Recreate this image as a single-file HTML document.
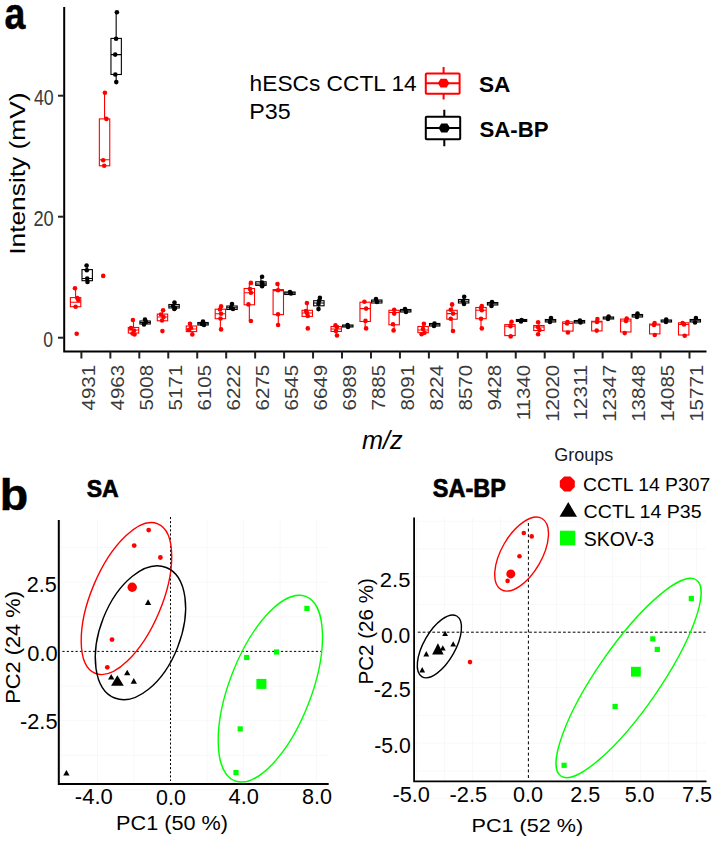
<!DOCTYPE html><html><head><meta charset="utf-8"><style>html,body{margin:0;padding:0;background:#fff;}svg{display:block;}text{font-family:"Liberation Sans",sans-serif;}</style></head><body>
<svg width="714" height="841" viewBox="0 0 714 841">
<rect width="714" height="841" fill="#fff"/>
<text transform="translate(4.42 29.45) scale(0.8447 1)" font-size="44.47" font-weight="bold" font-style="normal" fill="#000" stroke="#000" stroke-width="0.5">a</text>
<path d="M64.2 7 V351.5 H706.5" fill="none" stroke="#000" stroke-width="2"/>
<path d="M58 337.7 H64" stroke="#222" stroke-width="2"/>
<path d="M58 216.7 H64" stroke="#222" stroke-width="2"/>
<path d="M58 95.7 H64" stroke="#222" stroke-width="2"/>
<text transform="translate(33.90 104.70) scale(0.8337 1)" font-size="21.36" font-weight="normal" font-style="normal" fill="#3A3A3A" >40</text>
<text transform="translate(33.39 225.70) scale(0.8561 1)" font-size="21.36" font-weight="normal" font-style="normal" fill="#3A3A3A" >20</text>
<text transform="translate(43.30 346.70) scale(0.8235 1)" font-size="21.36" font-weight="normal" font-style="normal" fill="#3A3A3A" >0</text>
<path d="M81.40 351.5 V358.5" stroke="#222" stroke-width="2"/>
<text transform="translate(95.20 364.8) rotate(-90) scale(1.08 1)" font-size="19" fill="#3A3A3A" text-anchor="end">4931</text>
<path d="M110.36 351.5 V358.5" stroke="#222" stroke-width="2"/>
<text transform="translate(124.16 364.8) rotate(-90) scale(1.08 1)" font-size="19" fill="#3A3A3A" text-anchor="end">4963</text>
<path d="M139.31 351.5 V358.5" stroke="#222" stroke-width="2"/>
<text transform="translate(153.11 364.8) rotate(-90) scale(1.08 1)" font-size="19" fill="#3A3A3A" text-anchor="end">5008</text>
<path d="M168.27 351.5 V358.5" stroke="#222" stroke-width="2"/>
<text transform="translate(182.07 364.8) rotate(-90) scale(1.08 1)" font-size="19" fill="#3A3A3A" text-anchor="end">5171</text>
<path d="M197.23 351.5 V358.5" stroke="#222" stroke-width="2"/>
<text transform="translate(211.03 364.8) rotate(-90) scale(1.08 1)" font-size="19" fill="#3A3A3A" text-anchor="end">6105</text>
<path d="M226.19 351.5 V358.5" stroke="#222" stroke-width="2"/>
<text transform="translate(239.99 364.8) rotate(-90) scale(1.08 1)" font-size="19" fill="#3A3A3A" text-anchor="end">6222</text>
<path d="M255.14 351.5 V358.5" stroke="#222" stroke-width="2"/>
<text transform="translate(268.94 364.8) rotate(-90) scale(1.08 1)" font-size="19" fill="#3A3A3A" text-anchor="end">6275</text>
<path d="M284.10 351.5 V358.5" stroke="#222" stroke-width="2"/>
<text transform="translate(297.90 364.8) rotate(-90) scale(1.08 1)" font-size="19" fill="#3A3A3A" text-anchor="end">6545</text>
<path d="M313.06 351.5 V358.5" stroke="#222" stroke-width="2"/>
<text transform="translate(326.86 364.8) rotate(-90) scale(1.08 1)" font-size="19" fill="#3A3A3A" text-anchor="end">6649</text>
<path d="M342.01 351.5 V358.5" stroke="#222" stroke-width="2"/>
<text transform="translate(355.81 364.8) rotate(-90) scale(1.08 1)" font-size="19" fill="#3A3A3A" text-anchor="end">6989</text>
<path d="M370.97 351.5 V358.5" stroke="#222" stroke-width="2"/>
<text transform="translate(384.77 364.8) rotate(-90) scale(1.08 1)" font-size="19" fill="#3A3A3A" text-anchor="end">7885</text>
<path d="M399.93 351.5 V358.5" stroke="#222" stroke-width="2"/>
<text transform="translate(413.73 364.8) rotate(-90) scale(1.08 1)" font-size="19" fill="#3A3A3A" text-anchor="end">8091</text>
<path d="M428.88 351.5 V358.5" stroke="#222" stroke-width="2"/>
<text transform="translate(442.68 364.8) rotate(-90) scale(1.08 1)" font-size="19" fill="#3A3A3A" text-anchor="end">8224</text>
<path d="M457.84 351.5 V358.5" stroke="#222" stroke-width="2"/>
<text transform="translate(471.64 364.8) rotate(-90) scale(1.08 1)" font-size="19" fill="#3A3A3A" text-anchor="end">8570</text>
<path d="M486.80 351.5 V358.5" stroke="#222" stroke-width="2"/>
<text transform="translate(500.60 364.8) rotate(-90) scale(1.08 1)" font-size="19" fill="#3A3A3A" text-anchor="end">9428</text>
<path d="M515.75 351.5 V358.5" stroke="#222" stroke-width="2"/>
<text transform="translate(529.55 364.8) rotate(-90) scale(1.08 1)" font-size="19" fill="#3A3A3A" text-anchor="end">11340</text>
<path d="M544.71 351.5 V358.5" stroke="#222" stroke-width="2"/>
<text transform="translate(558.51 364.8) rotate(-90) scale(1.08 1)" font-size="19" fill="#3A3A3A" text-anchor="end">12020</text>
<path d="M573.67 351.5 V358.5" stroke="#222" stroke-width="2"/>
<text transform="translate(587.47 364.8) rotate(-90) scale(1.08 1)" font-size="19" fill="#3A3A3A" text-anchor="end">12311</text>
<path d="M602.63 351.5 V358.5" stroke="#222" stroke-width="2"/>
<text transform="translate(616.43 364.8) rotate(-90) scale(1.08 1)" font-size="19" fill="#3A3A3A" text-anchor="end">12347</text>
<path d="M631.58 351.5 V358.5" stroke="#222" stroke-width="2"/>
<text transform="translate(645.38 364.8) rotate(-90) scale(1.08 1)" font-size="19" fill="#3A3A3A" text-anchor="end">13848</text>
<path d="M660.54 351.5 V358.5" stroke="#222" stroke-width="2"/>
<text transform="translate(674.34 364.8) rotate(-90) scale(1.08 1)" font-size="19" fill="#3A3A3A" text-anchor="end">14085</text>
<path d="M689.50 351.5 V358.5" stroke="#222" stroke-width="2"/>
<text transform="translate(703.30 364.8) rotate(-90) scale(1.08 1)" font-size="19" fill="#3A3A3A" text-anchor="end">15771</text>
<text transform="translate(25.10 254.84) rotate(-90) scale(1.1940 1)" font-size="22.07" font-weight="normal" fill="#000">Intensity (mV)</text>
<text transform="translate(361.96 448.50) scale(1.0060 1)" font-size="25.10" font-weight="normal" font-style="italic" fill="#000" >m/z</text>
<text transform="translate(249.61 91.40) scale(1.0490 1)" font-size="21.66" font-weight="normal" font-style="normal" fill="#000" >hESCs CCTL 14</text>
<text transform="translate(249.28 118.70) scale(1.0335 1)" font-size="22.51" font-weight="normal" font-style="normal" fill="#000" >P35</text>
<g stroke="#FF0000" stroke-width="2" fill="none" stroke-linejoin="round"><path d="M443.6 67 V73.6 M443.6 93.8 V99.6"/><rect x="425.8" y="73.6" width="33.80000000000001" height="20.200000000000003" rx="0.8"/><path d="M425.8 83.2 H459.6"/></g>
<path d="M437.80 83.2 L440.60 78.80 L446.60 78.80 L449.40 83.2 L446.60 87.60 L440.60 87.60Z" fill="#FF0000"/>
<g stroke="#000" stroke-width="2" fill="none" stroke-linejoin="round"><path d="M444.3 109.8 V116.7 M444.3 139.3 V146.2"/><rect x="425.8" y="116.7" width="34.39999999999998" height="22.60000000000001" rx="0.8"/><path d="M425.8 128.0 H460.2"/></g>
<path d="M438.50 128.0 L441.30 123.60 L447.30 123.60 L450.10 128.0 L447.30 132.40 L441.30 132.40Z" fill="#000"/>
<text transform="translate(478.92 91.90) scale(1.0539 1)" font-size="21.51" font-weight="bold" font-style="normal" fill="#000" >SA</text>
<text transform="translate(479.53 136.70) scale(1.0062 1)" font-size="22.08" font-weight="bold" font-style="normal" fill="#000" >SA-BP</text>
<g stroke="#FF0000" stroke-width="1.1" fill="none"><rect x="70.40" y="297.60" width="10.40" height="9.10"/><path d="M70.40 302.30 H80.80 M75.60 297.60 V288.30"/></g>
<circle cx="75.00" cy="288.30" r="2.3" fill="#FF0000"/>
<circle cx="77.30" cy="298.10" r="2.3" fill="#FF0000"/>
<circle cx="78.30" cy="300.00" r="2.3" fill="#FF0000"/>
<circle cx="75.60" cy="306.70" r="2.3" fill="#FF0000"/>
<circle cx="76.70" cy="333.80" r="2.3" fill="#FF0000"/>
<g stroke="#FF0000" stroke-width="1.1" fill="none"><rect x="99.36" y="118.90" width="10.40" height="46.90"/><path d="M99.36 159.80 H109.76 M104.56 118.90 V92.80"/></g>
<circle cx="104.90" cy="92.80" r="2.3" fill="#FF0000"/>
<circle cx="106.40" cy="118.90" r="2.3" fill="#FF0000"/>
<circle cx="103.20" cy="160.30" r="2.3" fill="#FF0000"/>
<circle cx="104.20" cy="165.80" r="2.3" fill="#FF0000"/>
<circle cx="103.20" cy="275.90" r="2.3" fill="#FF0000"/>
<g stroke="#FF0000" stroke-width="1.1" fill="none"><rect x="128.31" y="327.50" width="10.40" height="5.60"/><path d="M128.31 330.00 H138.71 M133.51 327.50 V320.00"/></g>
<circle cx="132.90" cy="320.00" r="2.3" fill="#FF0000"/>
<circle cx="131.00" cy="328.00" r="2.3" fill="#FF0000"/>
<circle cx="134.00" cy="330.50" r="2.3" fill="#FF0000"/>
<circle cx="132.50" cy="333.50" r="2.3" fill="#FF0000"/>
<circle cx="134.50" cy="334.50" r="2.3" fill="#FF0000"/>
<g stroke="#FF0000" stroke-width="1.1" fill="none"><rect x="157.27" y="314.10" width="10.40" height="6.70"/><path d="M157.27 317.00 H167.67 M162.47 314.10 V310.20"/></g>
<circle cx="163.10" cy="310.20" r="2.3" fill="#FF0000"/>
<circle cx="161.00" cy="314.50" r="2.3" fill="#FF0000"/>
<circle cx="163.50" cy="317.00" r="2.3" fill="#FF0000"/>
<circle cx="162.00" cy="320.50" r="2.3" fill="#FF0000"/>
<circle cx="162.40" cy="331.10" r="2.3" fill="#FF0000"/>
<g stroke="#FF0000" stroke-width="1.1" fill="none"><rect x="186.23" y="326.00" width="10.40" height="5.60"/><path d="M186.23 329.00 H196.63 M191.43 326.00 V323.80"/></g>
<circle cx="190.00" cy="323.80" r="2.3" fill="#FF0000"/>
<circle cx="191.00" cy="328.00" r="2.3" fill="#FF0000"/>
<circle cx="192.30" cy="334.40" r="2.3" fill="#FF0000"/>
<circle cx="189.00" cy="330.00" r="2.3" fill="#FF0000"/>
<g stroke="#FF0000" stroke-width="1.1" fill="none"><rect x="215.19" y="309.20" width="10.40" height="9.50"/><path d="M215.19 313.70 H225.58 M220.38 309.20 V306.40 M220.38 318.70 V329.40"/></g>
<circle cx="221.10" cy="306.40" r="2.3" fill="#FF0000"/>
<circle cx="220.00" cy="309.50" r="2.3" fill="#FF0000"/>
<circle cx="221.00" cy="313.70" r="2.3" fill="#FF0000"/>
<circle cx="220.50" cy="318.50" r="2.3" fill="#FF0000"/>
<circle cx="221.10" cy="329.40" r="2.3" fill="#FF0000"/>
<g stroke="#FF0000" stroke-width="1.1" fill="none"><rect x="244.14" y="288.50" width="10.40" height="16.30"/><path d="M244.14 292.80 H254.54 M249.34 288.50 V282.90 M249.34 304.80 V321.00"/></g>
<circle cx="250.90" cy="282.90" r="2.3" fill="#FF0000"/>
<circle cx="250.00" cy="289.00" r="2.3" fill="#FF0000"/>
<circle cx="250.90" cy="292.80" r="2.3" fill="#FF0000"/>
<circle cx="248.40" cy="304.40" r="2.3" fill="#FF0000"/>
<circle cx="250.90" cy="321.00" r="2.3" fill="#FF0000"/>
<g stroke="#FF0000" stroke-width="1.1" fill="none"><rect x="273.10" y="289.60" width="10.40" height="25.00"/><path d="M273.10 290.60 H283.50 M278.30 289.60 V284.00 M278.30 314.60 V325.00"/></g>
<circle cx="277.50" cy="284.00" r="2.3" fill="#FF0000"/>
<circle cx="278.00" cy="290.20" r="2.3" fill="#FF0000"/>
<circle cx="278.00" cy="314.30" r="2.3" fill="#FF0000"/>
<circle cx="278.10" cy="325.00" r="2.3" fill="#FF0000"/>
<g stroke="#FF0000" stroke-width="1.1" fill="none"><rect x="302.06" y="310.30" width="10.40" height="6.10"/><path d="M302.06 313.00 H312.46 M307.26 310.30 V303.00"/></g>
<circle cx="306.90" cy="303.00" r="2.3" fill="#FF0000"/>
<circle cx="306.00" cy="311.00" r="2.3" fill="#FF0000"/>
<circle cx="307.00" cy="313.00" r="2.3" fill="#FF0000"/>
<circle cx="307.80" cy="316.00" r="2.3" fill="#FF0000"/>
<circle cx="307.80" cy="328.40" r="2.3" fill="#FF0000"/>
<g stroke="#FF0000" stroke-width="1.1" fill="none"><rect x="331.01" y="326.50" width="10.40" height="5.00"/><path d="M331.01 329.00 H341.41 M336.21 326.50 V325.40 M336.21 331.50 V335.50"/></g>
<circle cx="335.50" cy="325.40" r="2.3" fill="#FF0000"/>
<circle cx="337.00" cy="327.00" r="2.3" fill="#FF0000"/>
<circle cx="336.00" cy="331.00" r="2.3" fill="#FF0000"/>
<circle cx="337.00" cy="335.50" r="2.3" fill="#FF0000"/>
<g stroke="#FF0000" stroke-width="1.1" fill="none"><rect x="359.97" y="302.20" width="10.40" height="19.30"/><path d="M359.97 308.60 H370.37 M365.17 302.20 V301.80 M365.17 321.50 V328.40"/></g>
<circle cx="364.40" cy="301.80" r="2.3" fill="#FF0000"/>
<circle cx="366.10" cy="308.60" r="2.3" fill="#FF0000"/>
<circle cx="365.50" cy="320.90" r="2.3" fill="#FF0000"/>
<circle cx="366.10" cy="328.40" r="2.3" fill="#FF0000"/>
<g stroke="#FF0000" stroke-width="1.1" fill="none"><rect x="388.93" y="310.30" width="10.40" height="14.50"/><path d="M388.93 312.50 H399.33 M394.13 310.30 V309.70 M394.13 324.80 V330.40"/></g>
<circle cx="394.20" cy="309.70" r="2.3" fill="#FF0000"/>
<circle cx="394.20" cy="313.60" r="2.3" fill="#FF0000"/>
<circle cx="393.00" cy="324.30" r="2.3" fill="#FF0000"/>
<circle cx="393.60" cy="330.40" r="2.3" fill="#FF0000"/>
<g stroke="#FF0000" stroke-width="1.1" fill="none"><rect x="417.88" y="326.50" width="10.40" height="6.20"/><path d="M417.88 330.00 H428.28 M423.08 326.50 V323.70 M423.08 332.70 V334.30"/></g>
<circle cx="423.90" cy="323.70" r="2.3" fill="#FF0000"/>
<circle cx="421.60" cy="334.30" r="2.3" fill="#FF0000"/>
<circle cx="424.50" cy="332.70" r="2.3" fill="#FF0000"/>
<circle cx="423.00" cy="329.00" r="2.3" fill="#FF0000"/>
<g stroke="#FF0000" stroke-width="1.1" fill="none"><rect x="446.84" y="310.30" width="10.40" height="8.90"/><path d="M446.84 313.60 H457.24 M452.04 310.30 V304.40 M452.04 319.20 V331.00"/></g>
<circle cx="452.10" cy="304.40" r="2.3" fill="#FF0000"/>
<circle cx="450.70" cy="309.70" r="2.3" fill="#FF0000"/>
<circle cx="453.00" cy="313.60" r="2.3" fill="#FF0000"/>
<circle cx="450.70" cy="318.70" r="2.3" fill="#FF0000"/>
<circle cx="453.00" cy="331.00" r="2.3" fill="#FF0000"/>
<g stroke="#FF0000" stroke-width="1.1" fill="none"><rect x="475.80" y="307.50" width="10.40" height="11.20"/><path d="M475.80 310.30 H486.20 M481.00 307.50 V306.00 M481.00 318.70 V328.40"/></g>
<circle cx="481.80" cy="306.00" r="2.3" fill="#FF0000"/>
<circle cx="481.00" cy="308.00" r="2.3" fill="#FF0000"/>
<circle cx="481.80" cy="310.30" r="2.3" fill="#FF0000"/>
<circle cx="481.00" cy="318.70" r="2.3" fill="#FF0000"/>
<circle cx="481.80" cy="328.40" r="2.3" fill="#FF0000"/>
<g stroke="#FF0000" stroke-width="1.1" fill="none"><rect x="504.75" y="324.60" width="10.40" height="11.00"/><path d="M504.75 326.30 H515.15 M509.95 324.60 V321.80 M509.95 335.60 V336.40"/></g>
<circle cx="511.60" cy="321.80" r="2.3" fill="#FF0000"/>
<circle cx="510.50" cy="326.30" r="2.3" fill="#FF0000"/>
<circle cx="510.70" cy="336.40" r="2.3" fill="#FF0000"/>
<g stroke="#FF0000" stroke-width="1.1" fill="none"><rect x="533.71" y="325.50" width="10.40" height="5.00"/><path d="M533.71 327.00 H544.11 M538.91 325.50 V322.20 M538.91 330.50 V334.20"/></g>
<circle cx="538.10" cy="322.20" r="2.3" fill="#FF0000"/>
<circle cx="538.00" cy="327.00" r="2.3" fill="#FF0000"/>
<circle cx="539.50" cy="330.00" r="2.3" fill="#FF0000"/>
<circle cx="538.10" cy="334.20" r="2.3" fill="#FF0000"/>
<g stroke="#FF0000" stroke-width="1.1" fill="none"><rect x="562.67" y="321.90" width="10.40" height="9.20"/><path d="M562.67 323.50 H573.07 M567.87 331.10 V332.50"/></g>
<circle cx="567.50" cy="322.10" r="2.3" fill="#FF0000"/>
<circle cx="567.00" cy="323.50" r="2.3" fill="#FF0000"/>
<circle cx="567.90" cy="332.50" r="2.3" fill="#FF0000"/>
<g stroke="#FF0000" stroke-width="1.1" fill="none"><rect x="591.63" y="321.30" width="10.40" height="9.60"/><path d="M591.63 322.00 H602.03 M596.83 321.30 V319.10"/></g>
<circle cx="597.40" cy="319.10" r="2.3" fill="#FF0000"/>
<circle cx="597.00" cy="322.00" r="2.3" fill="#FF0000"/>
<circle cx="596.70" cy="330.60" r="2.3" fill="#FF0000"/>
<g stroke="#FF0000" stroke-width="1.1" fill="none"><rect x="620.58" y="319.10" width="10.40" height="12.90"/><path d="M620.58 321.00 H630.98 M625.78 319.10 V318.50 M625.78 332.00 V333.10"/></g>
<circle cx="626.70" cy="318.50" r="2.3" fill="#FF0000"/>
<circle cx="626.00" cy="321.00" r="2.3" fill="#FF0000"/>
<circle cx="624.70" cy="333.10" r="2.3" fill="#FF0000"/>
<g stroke="#FF0000" stroke-width="1.1" fill="none"><rect x="649.54" y="324.10" width="10.40" height="9.80"/><path d="M649.54 325.00 H659.94 M654.74 324.10 V323.10 M654.74 333.90 V335.00"/></g>
<circle cx="654.60" cy="323.10" r="2.3" fill="#FF0000"/>
<circle cx="654.00" cy="325.00" r="2.3" fill="#FF0000"/>
<circle cx="654.80" cy="335.00" r="2.3" fill="#FF0000"/>
<g stroke="#FF0000" stroke-width="1.1" fill="none"><rect x="678.50" y="322.80" width="10.40" height="12.20"/><path d="M678.50 324.50 H688.90 M683.70 335.00 V335.70"/></g>
<circle cx="682.60" cy="323.10" r="2.3" fill="#FF0000"/>
<circle cx="684.00" cy="324.50" r="2.3" fill="#FF0000"/>
<circle cx="684.70" cy="335.70" r="2.3" fill="#FF0000"/>
<g stroke="#000000" stroke-width="1.1" fill="none"><rect x="82.00" y="269.60" width="10.40" height="11.10"/><path d="M82.00 278.50 H92.40 M87.20 269.60 V265.50 M87.20 280.70 V281.90"/></g>
<circle cx="86.60" cy="265.50" r="2.3" fill="#000000"/>
<circle cx="86.80" cy="270.20" r="2.3" fill="#000000"/>
<circle cx="87.20" cy="278.50" r="2.3" fill="#000000"/>
<circle cx="87.50" cy="281.90" r="2.3" fill="#000000"/>
<g stroke="#000000" stroke-width="1.1" fill="none"><rect x="110.96" y="38.40" width="10.40" height="36.10"/><path d="M110.96 54.60 H121.36 M116.16 38.40 V12.30 M116.16 74.50 V82.10"/></g>
<circle cx="116.90" cy="12.30" r="2.3" fill="#000000"/>
<circle cx="116.10" cy="38.80" r="2.3" fill="#000000"/>
<circle cx="115.20" cy="54.60" r="2.3" fill="#000000"/>
<circle cx="115.30" cy="74.50" r="2.3" fill="#000000"/>
<circle cx="116.30" cy="82.10" r="2.3" fill="#000000"/>
<g stroke="#000000" stroke-width="1.1" fill="none"><rect x="139.91" y="321.00" width="10.40" height="3.00"/><path d="M139.91 322.50 H150.31 M145.11 321.00 V319.50 M145.11 324.00 V325.00"/></g>
<circle cx="145.00" cy="319.50" r="2.3" fill="#000000"/>
<circle cx="146.00" cy="322.00" r="2.3" fill="#000000"/>
<circle cx="144.00" cy="324.50" r="2.3" fill="#000000"/>
<g stroke="#000000" stroke-width="1.1" fill="none"><rect x="168.87" y="304.50" width="10.40" height="3.50"/><path d="M168.87 306.20 H179.27 M174.07 304.50 V302.50 M174.07 308.00 V309.00"/></g>
<circle cx="174.50" cy="302.50" r="2.3" fill="#000000"/>
<circle cx="173.00" cy="306.00" r="2.3" fill="#000000"/>
<circle cx="175.00" cy="308.00" r="2.3" fill="#000000"/>
<circle cx="174.30" cy="309.00" r="2.3" fill="#000000"/>
<g stroke="#000000" stroke-width="1.1" fill="none"><rect x="197.83" y="322.50" width="10.40" height="2.50"/><path d="M197.83 323.80 H208.23 M203.03 322.50 V321.50 M203.03 325.00 V325.50"/></g>
<circle cx="203.00" cy="321.50" r="2.3" fill="#000000"/>
<circle cx="202.00" cy="324.00" r="2.3" fill="#000000"/>
<circle cx="204.00" cy="325.00" r="2.3" fill="#000000"/>
<g stroke="#000000" stroke-width="1.1" fill="none"><rect x="226.79" y="306.00" width="10.40" height="3.50"/><path d="M226.79 307.80 H237.19 M231.99 306.00 V304.00"/></g>
<circle cx="232.00" cy="304.00" r="2.3" fill="#000000"/>
<circle cx="231.00" cy="307.50" r="2.3" fill="#000000"/>
<circle cx="233.00" cy="309.00" r="2.3" fill="#000000"/>
<g stroke="#000000" stroke-width="1.1" fill="none"><rect x="255.74" y="281.80" width="10.40" height="3.60"/><path d="M255.74 284.00 H266.14 M260.94 281.80 V276.80 M260.94 285.40 V286.30"/></g>
<circle cx="262.10" cy="276.80" r="2.3" fill="#000000"/>
<circle cx="262.00" cy="282.50" r="2.3" fill="#000000"/>
<circle cx="262.50" cy="284.00" r="2.3" fill="#000000"/>
<circle cx="262.10" cy="286.30" r="2.3" fill="#000000"/>
<g stroke="#000000" stroke-width="1.1" fill="none"><rect x="284.70" y="292.00" width="10.40" height="2.50"/><path d="M284.70 293.00 H295.10 M289.90 292.00 V291.50"/></g>
<circle cx="290.00" cy="292.00" r="2.3" fill="#000000"/>
<circle cx="291.00" cy="293.50" r="2.3" fill="#000000"/>
<g stroke="#000000" stroke-width="1.1" fill="none"><rect x="313.66" y="300.70" width="10.40" height="5.10"/><path d="M313.66 303.00 H324.06 M318.86 300.70 V297.90 M318.86 305.80 V309.10"/></g>
<circle cx="319.90" cy="297.90" r="2.3" fill="#000000"/>
<circle cx="319.00" cy="301.00" r="2.3" fill="#000000"/>
<circle cx="318.50" cy="304.00" r="2.3" fill="#000000"/>
<circle cx="318.50" cy="309.10" r="2.3" fill="#000000"/>
<g stroke="#000000" stroke-width="1.1" fill="none"><rect x="342.61" y="325.00" width="10.40" height="2.00"/><path d="M342.61 326.00 H353.01 M347.81 325.00 V324.50 M347.81 327.00 V327.50"/></g>
<circle cx="347.60" cy="325.00" r="2.3" fill="#000000"/>
<circle cx="348.00" cy="327.00" r="2.3" fill="#000000"/>
<g stroke="#000000" stroke-width="1.1" fill="none"><rect x="371.57" y="300.00" width="10.40" height="3.00"/><path d="M371.57 301.30 H381.97 M376.77 300.00 V299.00"/></g>
<circle cx="376.00" cy="299.00" r="2.3" fill="#000000"/>
<circle cx="377.00" cy="302.00" r="2.3" fill="#000000"/>
<g stroke="#000000" stroke-width="1.1" fill="none"><rect x="400.53" y="309.50" width="10.40" height="2.50"/><path d="M400.53 310.80 H410.93 M405.73 309.50 V308.50 M405.73 312.00 V313.00"/></g>
<circle cx="405.00" cy="309.00" r="2.3" fill="#000000"/>
<circle cx="406.00" cy="312.00" r="2.3" fill="#000000"/>
<g stroke="#000000" stroke-width="1.1" fill="none"><rect x="429.48" y="323.50" width="10.40" height="2.50"/><path d="M429.48 324.80 H439.88 M434.68 323.50 V323.00 M434.68 326.00 V326.50"/></g>
<circle cx="434.50" cy="323.50" r="2.3" fill="#000000"/>
<circle cx="434.00" cy="326.00" r="2.3" fill="#000000"/>
<g stroke="#000000" stroke-width="1.1" fill="none"><rect x="458.44" y="299.50" width="10.40" height="3.50"/><path d="M458.44 301.30 H468.84 M463.64 299.50 V296.80 M463.64 303.00 V304.00"/></g>
<circle cx="464.20" cy="296.80" r="2.3" fill="#000000"/>
<circle cx="463.00" cy="301.00" r="2.3" fill="#000000"/>
<circle cx="464.00" cy="304.00" r="2.3" fill="#000000"/>
<g stroke="#000000" stroke-width="1.1" fill="none"><rect x="487.40" y="302.50" width="10.40" height="2.50"/><path d="M487.40 303.80 H497.80 M492.60 302.50 V302.00 M492.60 305.00 V306.50"/></g>
<circle cx="492.00" cy="302.00" r="2.3" fill="#000000"/>
<circle cx="491.50" cy="306.00" r="2.3" fill="#000000"/>
<g stroke="#000000" stroke-width="1.1" fill="none"><rect x="516.35" y="319.50" width="10.40" height="2.00"/><path d="M516.35 320.50 H526.75"/></g>
<circle cx="521.60" cy="320.00" r="2.3" fill="#000000"/>
<circle cx="521.00" cy="321.50" r="2.3" fill="#000000"/>
<g stroke="#000000" stroke-width="1.1" fill="none"><rect x="545.31" y="319.50" width="10.40" height="2.50"/><path d="M545.31 320.70 H555.71 M550.51 319.50 V318.00 M550.51 322.00 V322.50"/></g>
<circle cx="551.00" cy="318.00" r="2.3" fill="#000000"/>
<circle cx="550.00" cy="322.00" r="2.3" fill="#000000"/>
<g stroke="#000000" stroke-width="1.1" fill="none"><rect x="574.27" y="320.50" width="10.40" height="2.50"/><path d="M574.27 321.70 H584.67"/></g>
<circle cx="579.90" cy="320.50" r="2.3" fill="#000000"/>
<circle cx="580.50" cy="322.50" r="2.3" fill="#000000"/>
<g stroke="#000000" stroke-width="1.1" fill="none"><rect x="603.23" y="317.00" width="10.40" height="2.00"/><path d="M603.23 318.00 H613.63 M608.43 317.00 V316.50 M608.43 319.00 V319.50"/></g>
<circle cx="608.60" cy="316.50" r="2.3" fill="#000000"/>
<circle cx="608.00" cy="319.00" r="2.3" fill="#000000"/>
<g stroke="#000000" stroke-width="1.1" fill="none"><rect x="632.18" y="314.50" width="10.40" height="2.50"/><path d="M632.18 315.70 H642.58 M637.38 314.50 V313.50 M637.38 317.00 V317.50"/></g>
<circle cx="637.50" cy="313.50" r="2.3" fill="#000000"/>
<circle cx="637.00" cy="317.00" r="2.3" fill="#000000"/>
<g stroke="#000000" stroke-width="1.1" fill="none"><rect x="661.14" y="320.00" width="10.40" height="2.00"/><path d="M661.14 321.00 H671.54 M666.34 320.00 V319.50"/></g>
<circle cx="666.20" cy="319.50" r="2.3" fill="#000000"/>
<circle cx="666.00" cy="322.00" r="2.3" fill="#000000"/>
<g stroke="#000000" stroke-width="1.1" fill="none"><rect x="690.10" y="319.50" width="10.40" height="2.50"/><path d="M690.10 320.70 H700.50 M695.30 319.50 V318.00 M695.30 322.00 V322.50"/></g>
<circle cx="695.90" cy="318.00" r="2.3" fill="#000000"/>
<circle cx="695.00" cy="322.50" r="2.3" fill="#000000"/>
<text transform="translate(-0.27 510.05) scale(1.0478 1)" font-size="44.41" font-weight="bold" font-style="normal" fill="#000" stroke="#000" stroke-width="0.5">b</text>
<text transform="translate(86.71 496.90) scale(0.9681 1)" font-size="23.80" font-weight="bold" font-style="normal" fill="#000" stroke="#000" stroke-width="0.7">SA</text>
<text transform="translate(432.80 497.00) scale(0.9004 1)" font-size="26.09" font-weight="bold" font-style="normal" fill="#000" stroke="#000" stroke-width="0.7">SA-BP</text>
<g stroke="#F8F8F8" stroke-width="1"><path d="M61.00 520 V782"/><path d="M97.50 520 V782"/><path d="M134.00 520 V782"/><path d="M207.00 520 V782"/><path d="M243.50 520 V782"/><path d="M280.00 520 V782"/><path d="M316.50 520 V782"/><path d="M60 547.52 H328"/><path d="M60 582.15 H328"/><path d="M60 616.77 H328"/><path d="M60 686.02 H328"/><path d="M60 720.65 H328"/><path d="M60 755.27 H328"/><path d="M60 789.90 H328"/></g>
<path d="M62.4 651.4 H322" stroke="#000" stroke-width="1" stroke-dasharray="2.2 2.17" fill="none"/>
<path d="M170.5 517 V781" stroke="#000" stroke-width="1" stroke-dasharray="2.1 2" fill="none"/>
<ellipse cx="126.45" cy="598.55" rx="81.02" ry="35.37" transform="rotate(112.78 126.45 598.55)" fill="none" stroke="#FF0000" stroke-width="1.4"/>
<ellipse cx="140.45" cy="632.75" rx="70.12" ry="39.89" transform="rotate(111.52 140.45 632.75)" fill="none" stroke="#000000" stroke-width="1.4"/>
<ellipse cx="270.35" cy="688.65" rx="98.76" ry="40.99" transform="rotate(111.03 270.35 688.65)" fill="none" stroke="#00FF00" stroke-width="1.4"/>
<circle cx="148.70" cy="530.10" r="2.40" fill="#FF0000"/>
<circle cx="134.20" cy="545.60" r="2.40" fill="#FF0000"/>
<circle cx="160.40" cy="557.50" r="2.40" fill="#FF0000"/>
<circle cx="112.00" cy="639.60" r="2.40" fill="#FF0000"/>
<circle cx="107.30" cy="667.30" r="2.40" fill="#FF0000"/>
<circle cx="132.20" cy="587.30" r="4.70" fill="#FF0000"/>
<path d="M108.05 679.50 L114.35 679.50 L111.20 673.90Z" fill="#000"/>
<path d="M124.05 675.30 L130.35 675.30 L127.20 669.70Z" fill="#000"/>
<path d="M130.65 683.70 L136.95 683.70 L133.80 678.10Z" fill="#000"/>
<path d="M144.95 604.90 L151.25 604.90 L148.10 599.30Z" fill="#000"/>
<path d="M63.25 775.50 L69.55 775.50 L66.40 769.90Z" fill="#000"/>
<path d="M111.05 685.70 L123.75 685.70 L117.40 675.20Z" fill="#000"/>
<rect x="304.30" y="605.80" width="5.20" height="5.20" fill="#00FF00"/>
<rect x="273.90" y="649.40" width="5.20" height="5.20" fill="#00FF00"/>
<rect x="244.10" y="654.90" width="5.20" height="5.20" fill="#00FF00"/>
<rect x="237.60" y="726.30" width="5.20" height="5.20" fill="#00FF00"/>
<rect x="233.40" y="770.00" width="5.20" height="5.20" fill="#00FF00"/>
<rect x="256.40" y="678.90" width="10.00" height="10.00" fill="#00FF00"/>
<path d="M58.8 520.1 V784 H328.7" fill="none" stroke="#000" stroke-width="2"/>
<text transform="translate(26.72 591.60) scale(0.9790 1)" font-size="22.08" font-weight="normal" font-style="normal" fill="#000" >2.5</text>
<text transform="translate(27.33 660.50) scale(0.9840 1)" font-size="22.22" font-weight="normal" font-style="normal" fill="#000" >0.0</text>
<text transform="translate(20.02 728.80) scale(0.9847 1)" font-size="22.08" font-weight="normal" font-style="normal" fill="#000" >-2.5</text>
<text transform="translate(74.81 803.80) scale(0.9997 1)" font-size="22.08" font-weight="normal" font-style="normal" fill="#000" >-4.0</text>
<text transform="translate(156.04 804.50) scale(0.9573 1)" font-size="22.37" font-weight="normal" font-style="normal" fill="#000" >0.0</text>
<text transform="translate(228.61 804.40) scale(0.9876 1)" font-size="22.08" font-weight="normal" font-style="normal" fill="#000" >4.0</text>
<text transform="translate(302.08 804.10) scale(0.9659 1)" font-size="22.37" font-weight="normal" font-style="normal" fill="#000" >8.0</text>
<text transform="translate(116.12 830.40) scale(1.1123 1)" font-size="19.45" font-weight="normal" font-style="normal" fill="#000" >PC1 (50 %)</text>
<text transform="translate(20.00 703.70) rotate(-90) scale(1.0394 1)" font-size="20.97" font-weight="normal" fill="#000">PC2 (24 %)</text>
<g stroke="#F8F8F8" stroke-width="1"><path d="M416.40 518 V780"/><path d="M444.40 518 V780"/><path d="M472.40 518 V780"/><path d="M500.40 518 V780"/><path d="M556.40 518 V780"/><path d="M584.40 518 V780"/><path d="M612.40 518 V780"/><path d="M640.40 518 V780"/><path d="M668.40 518 V780"/><path d="M696.40 518 V780"/><path d="M415 521.20 H706"/><path d="M415 548.95 H706"/><path d="M415 576.70 H706"/><path d="M415 604.45 H706"/><path d="M415 659.95 H706"/><path d="M415 687.70 H706"/><path d="M415 715.45 H706"/><path d="M415 743.20 H706"/><path d="M415 770.95 H706"/><path d="M415 798.70 H706"/></g>
<path d="M417.8 632.2 H705.5" stroke="#000" stroke-width="1" stroke-dasharray="2.8 2.04" fill="none"/>
<path d="M528.4 523 V780" stroke="#000" stroke-width="1" stroke-dasharray="3 2.6" fill="none"/>
<ellipse cx="521.60" cy="554.05" rx="40.99" ry="20.21" transform="rotate(119.85 521.60 554.05)" fill="none" stroke="#FF0000" stroke-width="1.4"/>
<ellipse cx="439.40" cy="646.40" rx="34.99" ry="15.81" transform="rotate(119.65 439.40 646.40)" fill="none" stroke="#000000" stroke-width="1.4"/>
<ellipse cx="628.60" cy="678.00" rx="119.15" ry="31.31" transform="rotate(124.67 628.60 678.00)" fill="none" stroke="#00FF00" stroke-width="1.4"/>
<circle cx="523.80" cy="533.00" r="2.30" fill="#FF0000"/>
<circle cx="531.70" cy="536.40" r="2.30" fill="#FF0000"/>
<circle cx="519.50" cy="556.20" r="2.30" fill="#FF0000"/>
<circle cx="507.60" cy="580.90" r="2.30" fill="#FF0000"/>
<circle cx="470.00" cy="662.10" r="2.30" fill="#FF0000"/>
<circle cx="510.80" cy="573.90" r="4.50" fill="#FF0000"/>
<path d="M442.20 636.10 L448.00 636.10 L445.10 630.70Z" fill="#000"/>
<path d="M450.30 646.60 L456.10 646.60 L453.20 641.20Z" fill="#000"/>
<path d="M423.40 656.50 L429.20 656.50 L426.30 651.10Z" fill="#000"/>
<path d="M419.30 672.50 L425.10 672.50 L422.20 667.10Z" fill="#000"/>
<path d="M439.90 650.60 L445.70 650.60 L442.80 645.20Z" fill="#000"/>
<path d="M432.15 654.40 L443.65 654.40 L437.90 643.30Z" fill="#000"/>
<rect x="688.70" y="595.90" width="5.20" height="5.20" fill="#00FF00"/>
<rect x="650.20" y="636.30" width="5.20" height="5.20" fill="#00FF00"/>
<rect x="654.70" y="646.80" width="5.20" height="5.20" fill="#00FF00"/>
<rect x="612.50" y="703.90" width="5.20" height="5.20" fill="#00FF00"/>
<rect x="561.50" y="762.70" width="5.20" height="5.20" fill="#00FF00"/>
<rect x="631.00" y="666.80" width="9.80" height="9.80" fill="#00FF00"/>
<path d="M414.1 517.6 V781.4 H706.5" fill="none" stroke="#000" stroke-width="1.8"/>
<text transform="translate(379.80 587.10) scale(1.0439 1)" font-size="21.08" font-weight="normal" font-style="normal" fill="#000" >2.5</text>
<text transform="translate(381.06 642.80) scale(0.9650 1)" font-size="21.79" font-weight="normal" font-style="normal" fill="#000" >0.0</text>
<text transform="translate(373.63 696.70) scale(0.9958 1)" font-size="21.65" font-weight="normal" font-style="normal" fill="#000" >-2.5</text>
<text transform="translate(374.15 752.90) scale(0.9737 1)" font-size="21.79" font-weight="normal" font-style="normal" fill="#000" >-5.0</text>
<text transform="translate(392.42 801.80) scale(1.0055 1)" font-size="21.65" font-weight="normal" font-style="normal" fill="#000" >-5.0</text>
<text transform="translate(449.62 802.20) scale(1.0004 1)" font-size="21.79" font-weight="normal" font-style="normal" fill="#000" >-2.5</text>
<text transform="translate(513.03 802.20) scale(0.9929 1)" font-size="21.79" font-weight="normal" font-style="normal" fill="#000" >0.0</text>
<text transform="translate(570.22 801.90) scale(1.0051 1)" font-size="21.51" font-weight="normal" font-style="normal" fill="#000" >2.5</text>
<text transform="translate(624.64 801.90) scale(0.9991 1)" font-size="21.51" font-weight="normal" font-style="normal" fill="#000" >5.0</text>
<text transform="translate(681.92 801.90) scale(0.9907 1)" font-size="21.82" font-weight="normal" font-style="normal" fill="#000" >7.5</text>
<text transform="translate(471.62 832.00) scale(1.1262 1)" font-size="19.17" font-weight="normal" font-style="normal" fill="#000" >PC1 (52 %)</text>
<text transform="translate(372.90 684.60) rotate(-90) scale(0.9965 1)" font-size="20.69" font-weight="normal" fill="#000">PC2 (26 %)</text>
<text transform="translate(554.20 460.70) scale(1.0289 1)" font-size="17.49" font-weight="normal" font-style="normal" fill="#1A1A1A" >Groups</text>
<path d="M564.2 476.4 L570.4 476.4 L574.8 480.8 L574.8 487 L570.4 491.4 L564.2 491.4 L559.8 487 L559.8 480.8Z" fill="#FF0000"/>
<path d="M559.50 516.80 L577.00 516.80 L568.25 502.10Z" fill="#000"/>
<rect x="560" y="530.7" width="15.3" height="14.6" fill="#00FF00"/>
<text transform="translate(582.93 490.70) scale(1.0395 1)" font-size="18.64" font-weight="normal" font-style="normal" fill="#000" >CCTL 14 P307</text>
<text transform="translate(583.62 517.50) scale(1.0523 1)" font-size="18.64" font-weight="normal" font-style="normal" fill="#000" >CCTL 14 P35</text>
<text transform="translate(583.72 546.00) scale(0.9780 1)" font-size="19.93" font-weight="normal" font-style="normal" fill="#000" >SKOV-3</text>
</svg></body></html>
